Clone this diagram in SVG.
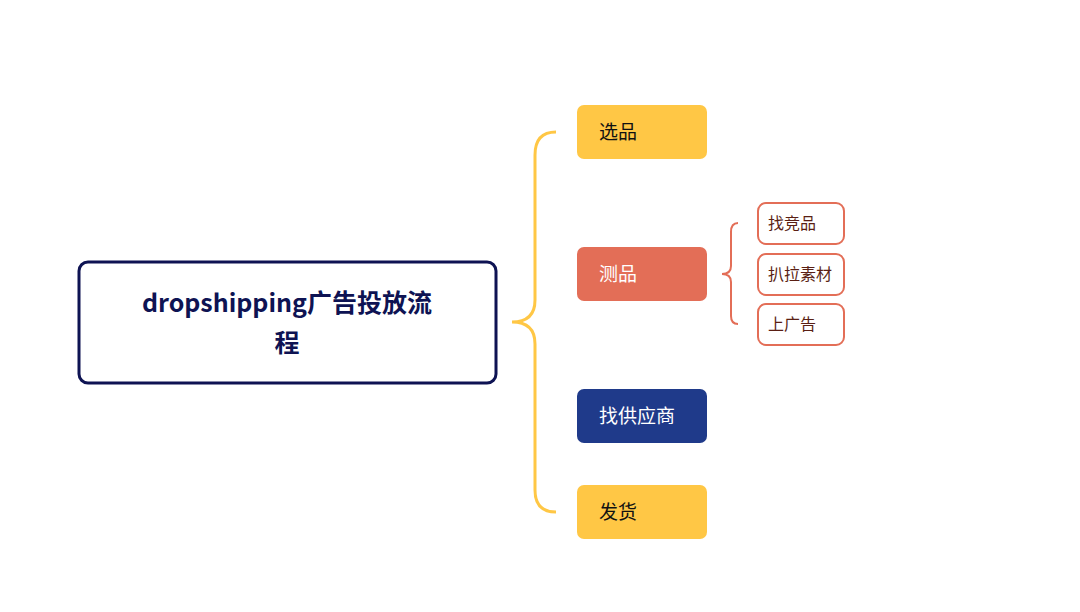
<svg xmlns="http://www.w3.org/2000/svg" width="1080" height="612" viewBox="0 0 1080 612">
<style>
text{font-family:"Noto Sans CJK SC","Noto Sans",sans-serif;}
.t{font-size:19px;}
.s{font-size:16px;fill:#5a1f14;}
.sub{fill:#fff;stroke:#e36e57;stroke-width:2;}
</style>
<rect width="1080" height="612" fill="#fff"/>
<g id="connectors" fill="none">
<path d="M556,132 Q535,132 535,155 L535,300 Q535,322 512,322 Q535,322 535,344 L535,490 Q535,512 556,512" stroke="#ffc745" stroke-width="3"/>
<path d="M738,223 Q731,223 731,232 L731,266 Q731,274 722,274 Q731,274 731,282 L731,316 Q731,324 738,324" stroke="#e36e57" stroke-width="2"/>
</g>
<g id="root"><rect x="79" y="262" width="417" height="121" rx="9" fill="#fff" stroke="#0e1353" stroke-width="3"/>
<text x="287" y="312" text-anchor="middle" font-size="25" font-weight="bold" fill="#0e1353">dropshipping广告投放流</text>
<text x="287" y="352" text-anchor="middle" font-size="25" font-weight="bold" fill="#0e1353">程</text></g>
<g id="n1"><rect x="577" y="105" width="130" height="54" rx="7" fill="#ffc745"/><text class="t" x="599" y="139" fill="#111">选品</text></g>
<g id="n2"><rect x="577" y="247" width="130" height="54" rx="7" fill="#e36e57"/><text class="t" x="599" y="281" fill="#fff">测品</text></g>
<g id="n3"><rect x="577" y="389" width="130" height="54" rx="7" fill="#1f3a8a"/><text class="t" x="599" y="423" fill="#fff">找供应商</text></g>
<g id="n4"><rect x="577" y="485" width="130" height="54" rx="7" fill="#ffc745"/><text class="t" x="599" y="519" fill="#111">发货</text></g>
<g id="s1"><rect class="sub" x="758" y="203" width="86" height="41" rx="8"/><text class="s" x="768" y="229">找竞品</text></g>
<g id="s2"><rect class="sub" x="758" y="254" width="86" height="41" rx="8"/><text class="s" x="768" y="280">扒拉素材</text></g>
<g id="s3"><rect class="sub" x="758" y="304" width="86" height="41" rx="8"/><text class="s" x="768" y="330">上广告</text></g>
</svg>
